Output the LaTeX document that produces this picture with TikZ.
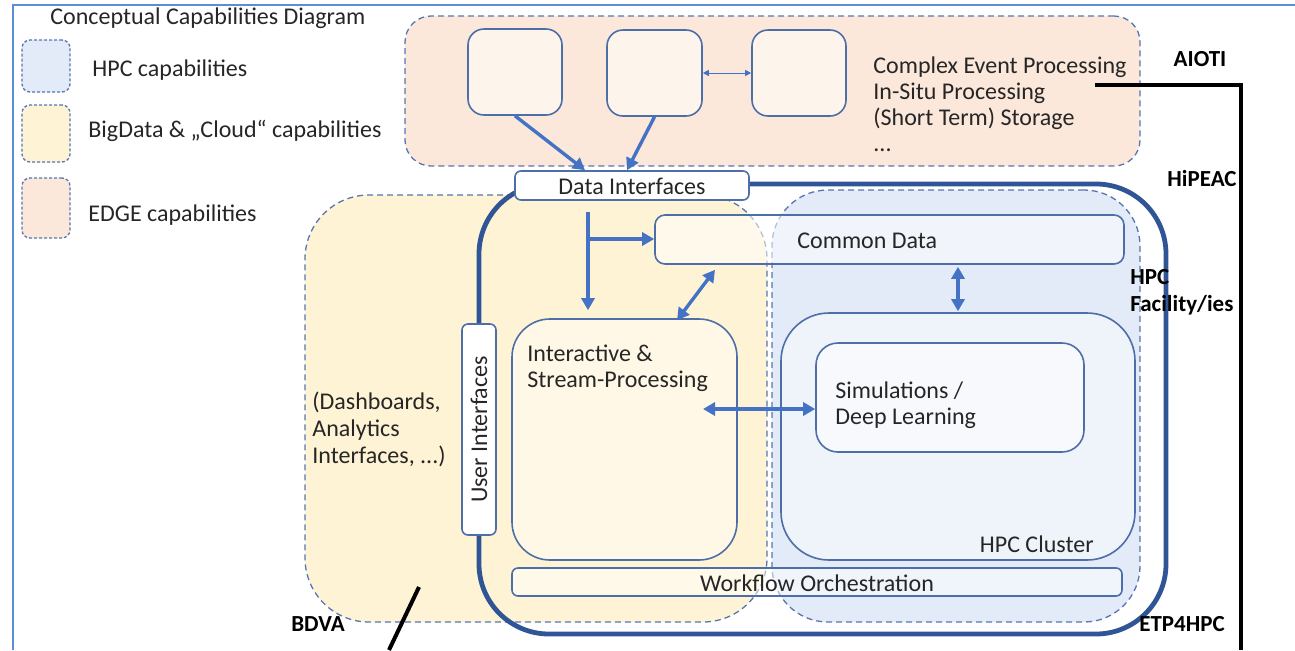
\documentclass[tikz,border=0pt]{standalone}
\usepackage{fontspec}
\setmainfont{Carlito}
\usetikzlibrary{arrows.meta,fit}

\definecolor{framec}{RGB}{91,142,214}
\definecolor{dashc}{RGB}{86,118,178}
\definecolor{boxc}{RGB}{78,110,168}
\definecolor{etpc}{RGB}{47,85,151}
\definecolor{arrc}{RGB}{68,114,196}
\definecolor{hpcfill}{RGB}{226,235,247}
\definecolor{bigfill}{RGB}{255,243,214}
\definecolor{edgefill}{RGB}{251,232,219}
\definecolor{edgebox}{RGB}{253,244,236}
\definecolor{ipfill}{RGB}{255,248,230}
\definecolor{txt}{RGB}{38,38,38}

\tikzset{
  area/.style={draw=dashc, line width=0.65pt, dash pattern=on 3pt off 2pt, inner sep=0pt},
  legendbox/.style={draw=dashc, line width=0.65pt, dash pattern=on 1.5pt off 1pt, rounded corners=4pt, inner sep=0pt},
  cell/.style={draw=boxc, line width=0.8pt, inner sep=0pt},
  arr/.style={draw=arrc, line width=1.7pt, -{Triangle[length=6pt,width=6.5pt]}},
  dbl/.style={draw=arrc, line width=1.7pt, {Triangle[length=6pt,width=6.5pt]}-{Triangle[length=6pt,width=6.5pt]}},
  thin dbl/.style={draw=arrc, line width=0.5pt, {Triangle[length=3pt,width=3pt]}-{Triangle[length=3pt,width=3pt]}},
  lbl/.style={text=txt, inner sep=0pt, font=\fontsize{12}{13}\selectfont, align=left},
  tag/.style={text=black, inner sep=0pt, font=\bfseries\fontsize{11.5}{13.5}\selectfont, align=left},
  pointer/.style={draw=black, line width=2pt},
}

\begin{document}
\begin{tikzpicture}[x=0.5pt,y=-0.5pt]
\useasboundingbox (0,0) rectangle (1295,650);

% outer page frame
\coordinate (fb) at (13,650);
\coordinate (ft) at (13,5);
\coordinate (fr) at (1295,5);
\draw[framec, line width=1.3pt] (fb) -- (ft) -- (fr);

% legend
\node[lbl, anchor=west] (title) at (50,18) {Conceptual Capabilities Diagram};
\node[legendbox, fill=hpcfill, fit={(22,40) (70,92)}] (lg1) {};
\node[legendbox, fill=bigfill, fit={(22,105) (70,162)}] (lg2) {};
\node[legendbox, fill=edgefill, fit={(22,178) (70,238)}] (lg3) {};
\node[lbl, anchor=west] (lt1) at (92,70) {HPC capabilities};
\node[lbl, anchor=west] (lt2) at (88,131) {BigData \& „Cloud“ capabilities};
\node[lbl, anchor=west] (lt3) at (88,215) {EDGE capabilities};

% EDGE capabilities area
\node[area, fill=edgefill, rounded corners=13pt, fit={(405,16) (1140,166)}] (edge) {};
\node[cell, fill=edgebox, rounded corners=8pt, fit={(468,29) (562,115)}] (e1) {};
\node[cell, fill=edgebox, rounded corners=8pt, fit={(607,30) (702,116)}] (e2) {};
\node[cell, fill=edgebox, rounded corners=8pt, fit={(752,30) (846,116)}] (e3) {};
\node[lbl, anchor=north west] (cep) at (873,56)
  {Complex Event Processing\\In-Situ Processing\\(Short Term) Storage\\...};

% BigData and HPC areas
\node[area, fill=bigfill, rounded corners=32pt, fit={(305,195) (767,622)}] (bdva) {};
\node[area, fill=hpcfill, rounded corners=28pt, fit={(772,190) (1140,622)}] (hpc) {};

% ETP4HPC boundary
\node[draw=etpc, line width=2.4pt, rounded corners=35pt, inner sep=0pt,
      fit={(479,184) (1166,634)}] (etp) {};

% inner components
\node[cell, fill=white, fill opacity=0.55, draw opacity=1, rounded corners=5pt, fit={(655,215) (1124,264)}] (cd) {};
\node[cell, fill=ipfill, rounded corners=19pt, fit={(512,319) (737,560)}] (ip) {};
\node[cell, fill=white, fill opacity=0.45, draw opacity=1, rounded corners=24pt, fit={(781,313) (1135,560)}] (hc) {};
\node[cell, fill=white, fill opacity=0.5, draw opacity=1, rounded corners=11pt, fit={(816,343) (1084,452)}] (sim) {};
\node[cell, fill=white, fill opacity=0.5, draw opacity=1, rounded corners=3pt, fit={(512,568) (1122,596)}] (wf) {};
\node[cell, fill=white, rounded corners=3pt, fit={(462,324) (496,535)}] (ui) {};
\node[cell, fill=white, rounded corners=3pt, fit={(515,171) (749,200)}] (di) {};

% texts of the components
\node[lbl] (dit) at ([yshift=-0.5pt]di.center) {Data Interfaces};
\node[lbl, rotate=90] (uit) at (ui.center) {User Interfaces};
\node[lbl, anchor=west] (cdt) at (797,241) {Common Data};
\node[lbl, anchor=north west] (ipt) at (527,344) {Interactive \&\\Stream-Processing};
\node[lbl, anchor=north west] (simt) at (835,381) {Simulations /\\Deep Learning};
\node[lbl, anchor=east] (hct) at (1094,544) {HPC Cluster};
\node[lbl] (wft) at ([yshift=-0.5pt]wf.center) {Workflow Orchestration};
\node[lbl, anchor=north west, font=\fontsize{12}{13.5}\selectfont] (dash) at (312,392)
  {(Dashboards,\\Analytics\\Interfaces, ...)};

% organisation tags
\node[tag] (aioti) at (1200,59) {AIOTI};
\node[tag] (hipeac) at (1202,178) {HiPEAC};
\node[tag, anchor=north west] (fac) at (1130,269) {HPC\\Facility/ies};
\node[tag] (etpt) at (1182,624) {ETP4HPC};
\node[tag] (bdvat) at (318,624) {BDVA};

% connector positions
\coordinate (x585) at (585,0);
\coordinate (x627) at (627,0);
\coordinate (x588) at (588,0);
\coordinate (x677) at (677,0);
\coordinate (x715) at (715,0);
\coordinate (x958) at (958,0);
\coordinate (y73) at (0,73);
\coordinate (y409) at (0,409);
\coordinate (hl) at (703,409);
\coordinate (br) at (588,239);

% data flow
\draw[arr] (e1.south) -- (di.north -| x585);
\draw[arr] (e2.south) -- (di.north -| x627);
\draw[thin dbl] (e2.east |- y73) -- (e3.west |- y73);
\draw[arr, shorten >=4pt] ([yshift=-5.5pt]di.south -| x588) -- (ip.north -| x588);
\draw[arr] (br) -- (cd.west |- br);
\draw[dbl] ([yshift=-1pt]ip.north -| x677) -- ([yshift=-2.5pt]cd.south -| x715);
\draw[dbl] ([yshift=-1pt]cd.south -| x958) -- ([yshift=0.5pt]hc.north -| x958);
\draw[dbl] (hl) -- (sim.west |- y409);

% pointer lines
\coordinate (p1) at (1095,85);
\coordinate (p2) at (1241,85);
\coordinate (p3) at (1241,650);
\draw[pointer, line join=miter] (p1) -- (p2) -- (p3);
\coordinate (q1) at (419,587);
\coordinate (q2) at (389,650);
\draw[pointer] (q1) -- (q2);
\end{tikzpicture}
\end{document}
